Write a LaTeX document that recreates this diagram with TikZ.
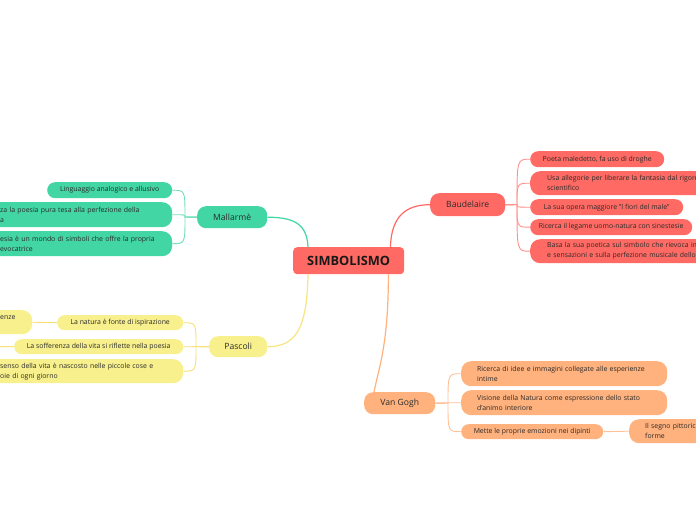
\documentclass[tikz,border=0pt]{standalone}
\usepackage{fontspec}
\setmainfont{Open Sans}
\usetikzlibrary{calc}
\definecolor{cred}{HTML}{FF6B64}
\definecolor{cgreen}{HTML}{42D6A4}
\definecolor{cyellow}{HTML}{F8F08C}
\definecolor{corange}{HTML}{FFB27D}
\definecolor{ctext}{HTML}{2B2B2B}
\newcommand\one[1]{\mbox{#1}}
\tikzset{
 box/.style={rounded corners=8pt, inner sep=0pt, text=ctext, anchor=north west},
 small/.style={box, font=\fontsize{6.9}{10}\selectfont},
 two/.style={small, align=left, inner xsep=16pt, rounded corners=10pt},
 mainnode/.style={box, font=\fontsize{8.6}{10}\selectfont, rounded corners=9pt},
 mainlink/.style={line width=1.2pt},
 sublink/.style={line width=0.9pt},
}
\begin{document}
\begin{tikzpicture}[x=1pt,y=-1pt]
\useasboundingbox (0,0) rectangle (696,520);
\clip (0,0) rectangle (696,520);
\fill[white] (0,0) rectangle (696,520);

% root
\node[box, fill=cred, minimum width=111pt, minimum height=27pt, rounded corners=4pt,
      font=\bfseries\fontsize{12.8}{14}\selectfont, text=black!90] (root) at (293,247) {SIMBOLISMO};

% main topics
\node[mainnode, fill=cgreen, minimum width=70pt, minimum height=22pt] (mal) at (197,206) {Mallarmè};
\node[mainnode, fill=cyellow, minimum width=58pt, minimum height=21pt] (pas) at (209,336) {Pascoli};
\node[mainnode, fill=cred, minimum width=75pt, minimum height=23pt] (bau) at (430,193) {Baudelaire};
\node[mainnode, fill=corange, minimum width=71pt, minimum height=22pt] (vg) at (364,392) {Van Gogh};

% Mallarme children
\node[small, fill=cgreen, minimum width=125pt, minimum height=16pt] (m1) at (47,182) {Linguaggio analogico e allusivo};
\node[two, fill=cgreen, text width=156pt, minimum height=25pt] (m2) at (-16,202) {\one{za la poesia pura tesa alla perfezione della}\\\one{a}};
\node[two, fill=cgreen, text width=156pt, minimum height=25pt] (m3) at (-16,231) {\one{esia è un mondo di simboli che offre la propria}\\\one{evocatrice}};

% Pascoli children
\node[small, fill=cyellow, minimum width=126pt, minimum height=15pt, rounded corners=7.5pt] (p1) at (57,315) {La natura è fonte di ispirazione};
\node[two, fill=cyellow, text width=16pt, minimum height=24pt] (p1c) at (-16,310) {\one{enze}\\\one{}};
\node[small, fill=cyellow, minimum width=169pt, minimum height=15pt, rounded corners=7.5pt] (p2) at (14,339) {La sofferenza della vita si riflette nella poesia};
\node[two, fill=cyellow, text width=167pt, minimum height=24pt] (p3) at (-16,359) {\one{senso della vita è nascosto nelle piccole cose e}\\\one{oie di ogni giorno}};
\coordinate (p2c) at (-20,346.5);

% Baudelaire children
\node[small, fill=cred, minimum width=134pt, minimum height=16pt] (b1) at (530,151) {Poeta maledetto, fa uso di droghe};
\node[two, fill=cred, inner xsep=17pt, text width=186pt, minimum height=24pt] (b2) at (530,171) {\one{Usa allegorie per liberare la fantasia dal rigore}\\\one{scientifico}};
\node[small, fill=cred, minimum width=153pt, minimum height=16pt] (b3) at (530,199) {La sua opera maggiore "I fiori del male"};
\node[small, fill=cred, minimum width=162pt, minimum height=16pt] (b4) at (530,219) {Ricerca il legame uomo-natura con sinestesie};
\node[two, fill=cred, inner xsep=17pt, text width=186pt, minimum height=24pt] (b5) at (530,239) {\one{Basa la sua poetica sul simbolo che rievoca im}\\\one{e sensazioni e sulla perfezione musicale dello}};

% Van Gogh children
\node[two, fill=corange, text width=174pt, minimum height=25pt] (v1) at (461,361) {\one{Ricerca di idee e immagini collegate alle esperienze}\\\one{intime}};
\node[two, fill=corange, text width=174pt, minimum height=25pt] (v2) at (461,390) {\one{Visione della Natura come espressione dello stato}\\\one{d'animo interiore}};
\node[small, fill=corange, minimum width=142pt, minimum height=15pt, rounded corners=7.5pt] (v3) at (461,424) {Mette le proprie emozioni nei dipinti};
\node[two, fill=corange, text width=88pt, minimum height=24pt] (v3c) at (629,419) {\one{Il segno pittoric}\\\one{forme}};

% junctions
\coordinate (mj) at (185,217);
\coordinate (pj) at (196,346.5);
\coordinate (bj) at (517,204.5);
\coordinate (vj) at (448,403);

% main links
\draw[mainlink, cgreen] ([xshift=15pt]root.north west) .. controls +(-1,-22) and +(28,0) .. (mal.east);
\draw[mainlink, cyellow!90!orange] ([xshift=15pt]root.south west) .. controls +(-1,55) and +(28,0) .. (pas.east);
\draw[mainlink, cred] ([xshift=-14pt]root.north east) .. controls +(1,-30) and +(-25,0) .. (bau.west);
\draw[mainlink, corange] ([xshift=-16pt]root.south east) .. controls +(0,70) and +(5,-25) .. ([xshift=10pt]vg.north west);

% sub links
\foreach \c in {m1,m2,m3}
  \draw[sublink, cgreen!75] (mal.west) -- (mj) .. controls (mj |- \c.east) .. (\c.east);
\foreach \c in {p1,p2,p3}
  \draw[sublink, cyellow!85!orange] (pas.west) -- (pj) .. controls (pj |- \c.east) .. (\c.east);
\foreach \c in {b1,b2,b3,b4,b5}
  \draw[sublink, cred!75] (bau.east) -- (bj) .. controls (bj |- \c.west) .. (\c.west);
\foreach \c in {v1,v2,v3}
  \draw[sublink, corange!80] (vg.east) -- (vj) .. controls (vj |- \c.west) .. (\c.west);
\draw[sublink, cyellow!85!orange] (p1.west) -- (p1c.east);
\draw[sublink, cyellow!85!orange] (p2.west) -- (p2c);
\draw[sublink, corange!80] (v3.east) -- (v3c.west);
\end{tikzpicture}
\end{document}
